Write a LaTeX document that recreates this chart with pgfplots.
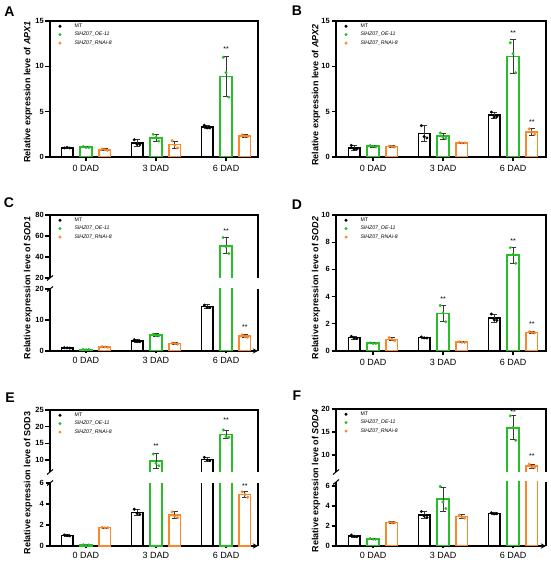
\documentclass[border=0pt]{standalone}
\usepackage{fontspec}
\setmainfont{Liberation Sans}
\usepackage{pgfplots}
\pgfplotsset{compat=1.18}
\definecolor{cg}{RGB}{40,190,40}
\definecolor{co}{RGB}{252,135,45}
\definecolor{ce}{RGB}{55,55,55}
\pgfplotsset{
 /pgf/number format/assume math mode=true,
 pan/.style={scale only axis, tick align=outside, major tick length=4.5pt,
   axis line style={line width=1.3pt, -}, major tick style={line width=1.3pt, black},
   yticklabel style={font=\bfseries\fontsize{7.5}{8}\selectfont, inner sep=1.5pt},
   xticklabel style={font=\fontsize{9}{10}\selectfont},
   ymin=0, clip=true},
 L/.style={pan, width=208pt, xmin=-0.514, xmax=2.457},
 R/.style={pan, width=210pt, xmin=-0.529, xmax=2.471},
 full/.style={axis x line=box, axis y line=box, tick pos=left, xtick={0,1,2}, xticklabels={0 DAD,3 DAD,6 DAD}},
 low/.style={axis x line=bottom, axis y line=box, tick pos=left, xtick={0,1,2}, xticklabels={0 DAD,3 DAD,6 DAD}},
 up/.style={axis x line=none, axis y line=box, ytick pos=left, xtick=\empty,
   after end axis/.code={\draw[line width=1.3pt, line cap=rect] (rel axis cs:0,1) -- (rel axis cs:1,1);}},
 leg/.style={legend style={at={(0.034,1)}, anchor=north west, yshift=-1.5pt, draw=none, fill=none,
   font=\fontsize{5.2}{6}\selectfont, row sep=2.2pt, inner xsep=1pt, inner ysep=0.5pt, nodes={inner sep=0.5pt}},
   legend cell align=left,
   legend image code/.code={\path (-1.5pt,0pt) (14pt,0pt); \draw[##1] plot coordinates {(0pt,0pt)};}},
}
\newcommand\bars[2]{\addplot[ybar, bar width=11.5pt, bar shift=0pt, draw=#1, fill=white, line width=1.6pt, forget plot,
  error bars/.cd, y dir=both, y explicit, error bar style={line width=0.9pt, draw=ce},
  error mark options={rotate=90, mark size=3.2pt, line width=0.9pt, draw=ce}] coordinates {#2};}
% open-bottom bar for the upper segment of a broken axis
\newcommand\obar[2]{\addplot[draw=#1, line width=1.6pt, line join=miter, forget plot] coordinates {#2};}
\newcommand\ebar[1]{\addplot[draw=none, no markers, forget plot,
  error bars/.cd, y dir=both, y explicit, error bar style={line width=0.9pt, draw=ce},
  error mark options={rotate=90, mark size=3.2pt, line width=0.9pt, draw=ce}] coordinates {#1};}
\newcommand\pts[2]{\addplot[only marks, mark=*, mark size=1.3pt, #1, forget plot] coordinates {#2};}
\newcommand\stars[2]{\node[font=\fontsize{7}{8}\selectfont] at (axis cs:#1,#2) {**};}
\newcommand\legs{\addlegendimage{only marks, mark=*, mark size=1.3pt, black}\addlegendentry{MT}
  \addlegendimage{only marks, mark=*, mark size=1.3pt, cg}\addlegendentry{\textit{SlHZ07\_OE-11}}
  \addlegendimage{only marks, mark=*, mark size=1.3pt, co}\addlegendentry{\textit{SlHZ07\_RNAi-8}}}
\newcommand\brk[2]{\draw[line width=1pt] (#1-3pt,#2-2.5pt) -- (#1+3pt,#2+2.5pt);}
\begin{document}
\begin{tikzpicture}
\useasboundingbox (0pt,0pt) rectangle (550pt,568pt);
% ---------------- A
\begin{axis}[L, full, leg, at={(50pt,411pt)}, anchor=south west, height=136pt, ymax=15, ytick={0,5,10,15}]
\legs
\bars{black}{(-0.27,1.02)+-(0,0.05) (0.73,1.55)+-(0,0.35) (1.73,3.3)+-(0,0.2)}
\bars{cg}{(0,1.08)+-(0,0.08) (1,2.12)+-(0,0.38) (2,8.9)+-(0,2.2)}
\bars{co}{(0.27,0.8)+-(0,0.1) (1.27,1.36)+-(0,0.4) (2.27,2.33)+-(0,0.12)}
\pts{black}{(-0.31,1.0)(-0.27,1.06)(-0.23,0.99) (0.69,1.9)(0.73,1.4)(0.77,1.35) (1.69,3.5)(1.73,3.2)(1.77,3.2)}
\pts{cg}{(-0.04,1.15)(0,1.05)(0.04,1.04) (0.96,2.5)(1,2.15)(1.04,1.75) (1.96,11.0)(2,9.3)(2.04,6.6)}
\pts{co}{(0.23,0.9)(0.27,0.8)(0.31,0.72) (1.23,1.8)(1.27,1.3)(1.31,1.0) (2.23,2.45)(2.27,2.3)(2.31,2.25)}
\stars{2}{11.9}
\end{axis}
% ---------------- B
\begin{axis}[R, full, leg, at={(336pt,411pt)}, anchor=south west, height=136pt, ymax=15, ytick={0,5,10,15}]
\legs
\bars{black}{(-0.27,1.0)+-(0,0.3) (0.73,2.6)+-(0,0.85) (1.73,4.6)+-(0,0.35)}
\bars{cg}{(0,1.2)+-(0,0.1) (1,2.3)+-(0,0.35) (2,11.1)+-(0,1.85)}
\bars{co}{(0.27,1.15)+-(0,0.08) (1.27,1.57)+-(0,0.05) (2.27,2.78)+-(0,0.35)}
\pts{black}{(-0.31,1.28)(-0.27,0.85)(-0.23,0.88) (0.69,3.45)(0.73,2.25)(0.77,2.1) (1.69,4.95)(1.73,4.4)(1.77,4.45)}
\pts{cg}{(-0.04,1.27)(0,1.2)(0.04,1.12) (0.96,2.65)(1,2.2)(1.04,2.05) (1.96,12.6)(2,11.4)(2.04,9.3)}
\pts{co}{(0.23,1.2)(0.27,1.15)(0.31,1.1) (1.23,1.6)(1.27,1.55)(1.31,1.56) (2.23,3.1)(2.27,2.75)(2.31,2.5)}
\stars{2}{13.7}\stars{2.27}{3.8}
\end{axis}
% ---------------- C lower
\begin{axis}[L, low, at={(50pt,217pt)}, anchor=south west, height=62pt, ymax=20, ytick={0,10,20}]
\bars{black}{(-0.27,1.0)+-(0,0.1) (0.73,3.3)+-(0,0.4) (1.73,14.3)+-(0,0.6)}
\bars{cg}{(0,0.5)+-(0,0.1) (1,5.1)+-(0,0.4) (2,50.6)}
\bars{co}{(0.27,1.3)+-(0,0.15) (1.27,2.4)+-(0,0.2) (2.27,4.8)+-(0,0.5)}
\pts{black}{(-0.31,1.05)(-0.27,1.0)(-0.23,0.95) (0.69,3.65)(0.73,3.2)(0.77,3.05) (1.69,14.8)(1.73,14.1)(1.77,14.0)}
\pts{cg}{(-0.04,0.55)(0,0.45)(0.04,0.5) (0.96,5.4)(1,5.0)(1.04,4.9)}
\pts{co}{(0.23,1.42)(0.27,1.3)(0.31,1.18) (1.23,2.55)(1.27,2.4)(1.31,2.25) (2.23,5.25)(2.27,4.7)(2.31,4.45)}
\stars{2.27}{7.8}
\end{axis}
% ---------------- C upper
\begin{axis}[L, up, leg, at={(50pt,290pt)}, anchor=south west, height=63pt, ymin=20, ymax=80, ytick={20,40,60,80}]
\legs
\obar{cg}{(1.918,0) (1.918,50.6) (2.082,50.6) (2.082,0)}
\ebar{(2,50.6)+-(0,7.6)}
\pts{cg}{(1.96,58.5)(2,50)(2.04,43.3)}
\stars{2}{65}
\end{axis}
\brk{50pt}{279pt}\brk{50pt}{290pt}
% ---------------- D
\begin{axis}[R, full, leg, at={(336pt,217pt)}, anchor=south west, height=136pt, ymax=10, ytick={0,2,4,6,8,10}]
\legs
\bars{black}{(-0.27,0.98)+-(0,0.1) (0.73,0.98)+-(0,0.05) (1.73,2.42)+-(0,0.3)}
\bars{cg}{(0,0.57)+-(0,0.04) (1,2.77)+-(0,0.6) (2,7.05)+-(0,0.6)}
\bars{co}{(0.27,0.86)+-(0,0.12) (1.27,0.65)+-(0,0.04) (2.27,1.37)+-(0,0.05)}
\pts{black}{(-0.31,1.08)(-0.27,0.95)(-0.23,0.91) (0.69,1.03)(0.73,0.97)(0.77,0.95) (1.69,2.72)(1.73,2.3)(1.77,2.25)}
\pts{cg}{(-0.04,0.6)(0,0.55)(0.04,0.56) (0.96,3.35)(1,2.8)(1.04,2.15) (1.96,7.6)(2,7.1)(2.04,6.45)}
\pts{co}{(0.23,0.98)(0.27,0.85)(0.31,0.75) (1.23,0.68)(1.27,0.64)(1.31,0.63) (2.23,1.41)(2.27,1.36)(2.31,1.34)}
\stars{1}{3.8}\stars{2}{8.05}\stars{2.27}{1.95}
\end{axis}
% ---------------- E lower
\begin{axis}[L, low, at={(50pt,22pt)}, anchor=south west, height=63pt, ymax=6, ytick={0,2,4,6}]
\bars{black}{(-0.27,1.0)+-(0,0.08) (0.73,3.2)+-(0,0.3) (1.73,10.2)}
\bars{cg}{(0,0.1)+-(0,0.05) (1,9.7) (2,17.6)}
\bars{co}{(0.27,1.75)+-(0,0.05) (1.27,2.93)+-(0,0.35) (2.27,4.9)+-(0,0.3)}
\pts{black}{(-0.31,1.05)(-0.27,1.0)(-0.23,0.95) (0.69,3.5)(0.73,3.1)(0.77,3.0)}
\pts{cg}{(-0.04,0.12)(0,0.08)(0.04,0.1)}
\pts{co}{(0.23,1.78)(0.27,1.73)(0.31,1.74) (1.23,3.25)(1.27,2.85)(1.31,2.7) (2.23,5.15)(2.27,4.9)(2.31,4.65)}
\stars{2.27}{5.75}
\end{axis}
% ---------------- E upper
\begin{axis}[L, up, leg, at={(50pt,96pt)}, anchor=south west, height=62pt, ymin=6.4, ymax=25, ytick={10,15,20,25}]
\legs
\obar{black}{(1.648,0) (1.648,10.2) (1.812,10.2) (1.812,0)}
\obar{cg}{(0.918,0) (0.918,9.7) (1.082,9.7) (1.082,0)}
\obar{cg}{(1.918,0) (1.918,17.6) (2.082,17.6) (2.082,0)}
\ebar{(1.73,10.2)+-(0,0.6) (1,9.7)+-(0,2.2) (2,17.6)+-(0,1.2)}
\pts{black}{(1.69,10.8)(1.73,10.0)(1.77,9.8)}
\pts{cg}{(0.96,11.8)(1,9.0)(1.04,8.3) (1.96,19.0)(2,17.0)(2.04,16.8)}
\stars{1}{14.3}\stars{2}{21.9}
\end{axis}
\brk{50pt}{85pt}\brk{50pt}{96pt}
% ---------------- F lower
\begin{axis}[R, low, at={(336pt,22pt)}, anchor=south west, height=64pt, ymax=6.4, ytick={0,2,4,6}]
\bars{black}{(-0.27,1.0)+-(0,0.1) (0.73,3.1)+-(0,0.35) (1.73,3.25)+-(0,0.08)}
\bars{cg}{(0,0.7)+-(0,0.07) (1,4.7)+-(0,1.2) (2,15.9)}
\bars{co}{(0.27,2.36)+-(0,0.08) (1.27,2.93)+-(0,0.2) (2.27,7.55)}
\pts{black}{(-0.31,1.1)(-0.27,0.98)(-0.23,0.93) (0.69,3.45)(0.73,3.0)(0.77,2.85) (1.69,3.32)(1.73,3.2)(1.77,3.23)}
\pts{cg}{(-0.04,0.75)(0,0.68)(0.04,0.67) (0.96,5.95)(1,4.4)(1.04,3.75)}
\pts{co}{(0.23,2.4)(0.27,2.33)(0.31,2.35) (1.23,3.1)(1.27,2.9)(1.31,2.8)}
\end{axis}
% ---------------- F upper
\begin{axis}[R, up, leg, at={(336pt,96pt)}, anchor=south west, height=63pt, ymin=6.3, ymax=20, ytick={10,15,20}]
\legs
\obar{cg}{(1.918,0) (1.918,15.9) (2.082,15.9) (2.082,0)}
\obar{co}{(2.188,0) (2.188,7.55) (2.352,7.55) (2.352,0)}
\ebar{(2,15.9)+-(0,2.6) (2.27,7.55)+-(0,0.4)}
\pts{cg}{(1.96,18.5)(2,16.0)(2.04,13.2)}
\pts{co}{(2.23,8.0)(2.27,7.4)(2.31,7.3)}
\stars{2}{19.4}\stars{2.27}{9.8}
\end{axis}
\brk{336pt}{86pt}\brk{336pt}{96pt}
% ---------------- labels
\tikzset{yl/.style={rotate=90, font=\bfseries\fontsize{9}{10}\selectfont}}
\node[yl] at (28pt,476pt) {Relative expression leve of \textit{APX1}};
\node[yl] at (316pt,473pt) {Relative expression leve of \textit{APX2}};
\node[yl] at (28pt,280pt) {Relative expression leve of \textit{SOD1}};
\node[yl] at (316pt,280pt) {Relative expression leve of \textit{SOD2}};
\node[yl] at (28pt,85pt) {Relative expression leve of SOD3};
\node[yl] at (316pt,87pt) {Relative expression leve of \textit{SOD4}};
\tikzset{pl/.style={font=\bfseries\fontsize{14}{16}\selectfont}}
\node[pl] at (9.5pt,556pt) {A};
\node[pl] at (297pt,557pt) {B};
\node[pl] at (9pt,365pt) {C};
\node[pl] at (297pt,363pt) {D};
\node[pl] at (10pt,170pt) {E};
\node[pl] at (297pt,172pt) {F};
\end{tikzpicture}
\end{document}
